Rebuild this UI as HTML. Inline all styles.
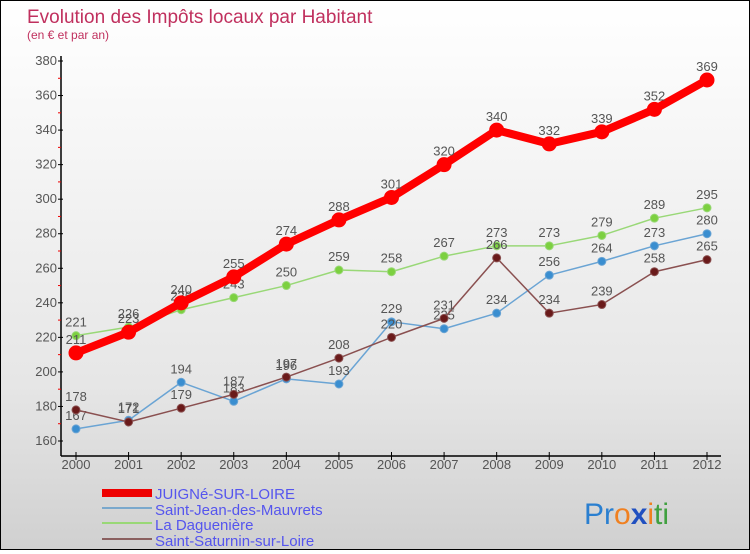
<!DOCTYPE html>
<html><head><meta charset="utf-8">
<style>
body{margin:0;width:750px;height:550px;overflow:hidden;font-family:"Liberation Sans",sans-serif}
#wrap{position:relative;width:748px;height:548px;border:1px solid #000;background:linear-gradient(#ffffff,#e6e6e6 70%,#d0d0d0)}
</style></head><body>
<div id="wrap">
<svg id="svg" width="748" height="548" xmlns="http://www.w3.org/2000/svg">
<text x="26" y="22" font-size="19" fill="#c0305e">Evolution des Impôts locaux par Habitant</text>
<text x="26" y="38" font-size="12" fill="#c0305e">(en € et par an)</text>
<g id="axes"></g><g id="series"></g>
<g>
<rect x="101" y="488" width="50" height="8" fill="#e00"/>
<rect x="101" y="506" width="50" height="2" fill="#7aa8cc"/>
<rect x="101" y="521" width="50" height="2" fill="#99d877"/>
<rect x="101" y="537" width="50" height="2" fill="#8a6060"/>
<text x="154" y="498" font-size="15" fill="#5555ee">JUIGNé-SUR-LOIRE</text>
<text x="154" y="514" font-size="15" fill="#5555ee">Saint-Jean-des-Mauvrets</text>
<text x="154" y="529" font-size="15" fill="#5555ee">La Daguenière</text>
<text x="154" y="545" font-size="15" fill="#5555ee">Saint-Saturnin-sur-Loire</text>
</g>
<text x="583" y="523" font-size="30"><tspan fill="#2a7fd0">Pr</tspan><tspan fill="#f08020">o</tspan><tspan fill="#2050c0" font-weight="bold">x</tspan><tspan fill="#f08020">i</tspan><tspan fill="#40a040">ti</tspan></text>
</svg></div>
<script>
const years=[2000,2001,2002,2003,2004,2005,2006,2007,2008,2009,2010,2011,2012];
const juigne=[211,223,240,255,274,288,301,320,340,332,339,352,369];
const saintJean=[167,172,194,183,196,193,229,225,234,256,264,273,280];
const dagueniere=[221,226,236,243,250,259,258,267,273,273,279,289,295];
const saintSaturnin=[178,171,179,187,197,208,220,231,266,234,239,258,265];
const yTicks=[160,180,200,220,240,260,280,300,320,340,360,380];
const NS="http://www.w3.org/2000/svg";
const X=i=>75+i*(631/12);
const Y=v=>440-(v-160)*(380/220);
function mk(tag,attrs,parent){const e=document.createElementNS(NS,tag);for(const k in attrs)e.setAttribute(k,attrs[k]);parent.appendChild(e);return e;}
const ax=document.getElementById('axes');
let l=mk('line',{x1:60,y1:55,x2:60,y2:455,stroke:'#000','stroke-width':1.5},ax);


l=mk('line',{x1:60,y1:455,x2:720,y2:455,stroke:'#000','stroke-width':1.5},ax);


yTicks.forEach((v,i)=>{
  mk('line',{x1:57,y1:Y(v),x2:62,y2:Y(v),stroke:'#000'},ax);
  if(i<yTicks.length-1) mk('line',{x1:57,y1:Y(v+10),x2:60,y2:Y(v+10),stroke:'#e00'},ax);
  const t=mk('text',{x:56,y:Y(v)+4,'font-size':13,fill:'#555','text-anchor':'end'},ax);t.textContent=v;
  
  
});
years.forEach((yr,i)=>{
  mk('line',{x1:X(i),y1:451,x2:X(i),y2:459,stroke:'#000'},ax);
  const t=mk('text',{x:X(i),y:468,'font-size':13,fill:'#555','text-anchor':'middle'},ax);t.textContent=yr;
  
  
});
const sg=document.getElementById('series');
function draw(data,name,color,fill,lw,r){
  const g=mk('g',{},sg);
  
  
  mk('polyline',{points:data.map((v,i)=>X(i)+','+Y(v)).join(' '),fill:'none',stroke:color,'stroke-width':lw,'stroke-linejoin':'round'},g);
  data.forEach((v,i)=>{
    const c=mk('circle',{cx:X(i),cy:Y(v),r:r,fill:fill,stroke:color,'stroke-width':1},g);
    
    
    const t=mk('text',{x:X(i),y:Y(v)-9,'font-size':13,fill:'#555','text-anchor':'middle'},g);t.textContent=v;
    
    
  });
}
draw(dagueniere,'dagueniere','#99d877','#7cd040',1.5,4);
draw(saintJean,'saint-jean','#6aa4d4','#3a8ed0',1.5,4);
draw(saintSaturnin,'saint-saturnin','#8a5050','#6a1a1a',1.5,4);
draw(juigne,'juigne','#f00','#f00',8,7);
</script>
</body></html>
